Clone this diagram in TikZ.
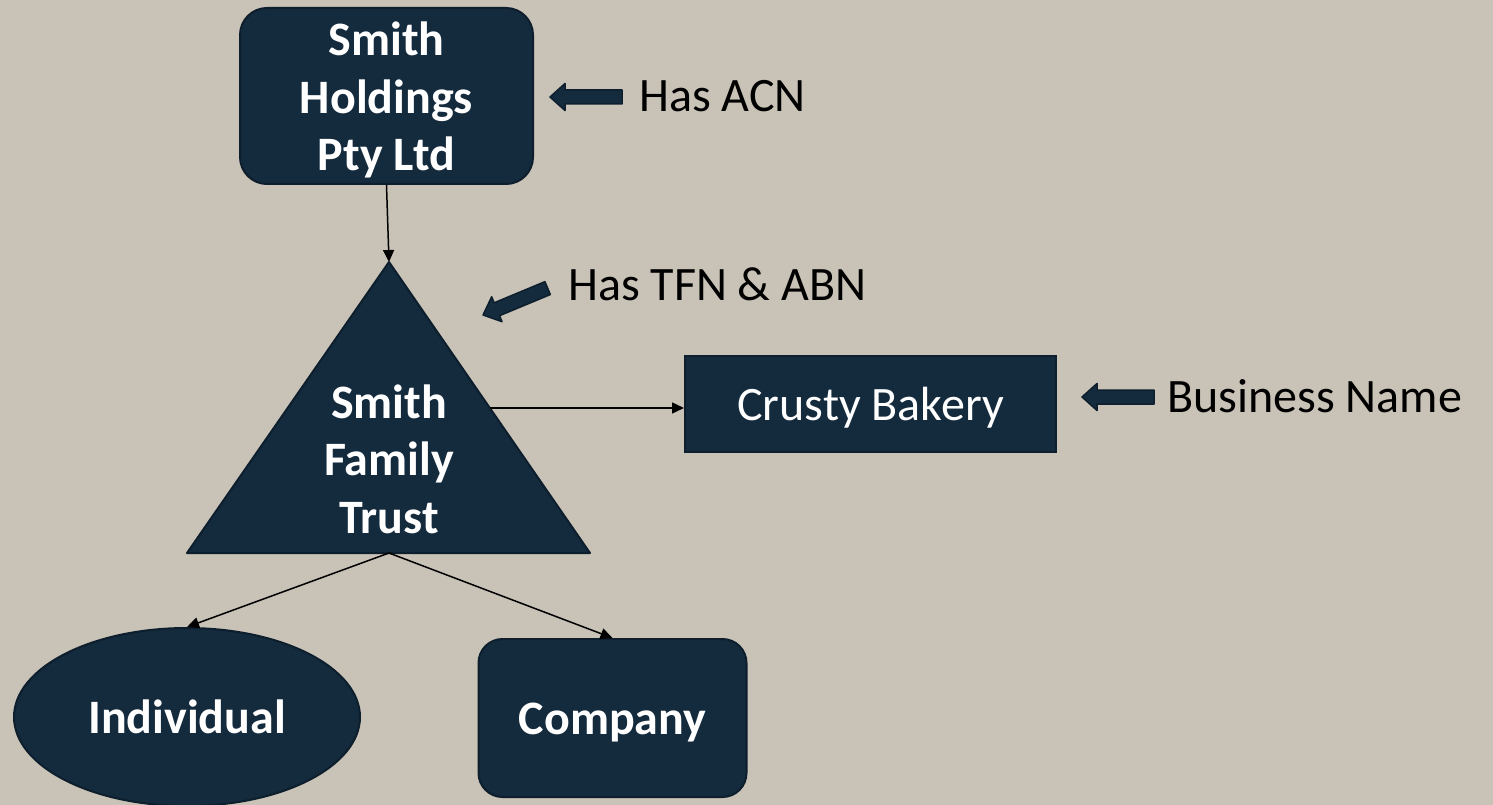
\documentclass[tikz,border=0pt]{standalone}
\usepackage{fontspec}
\setmainfont{Carlito}
\usetikzlibrary{shapes.geometric,arrows.meta}
\definecolor{bgc}{RGB}{201,194,183}
\definecolor{navy}{RGB}{20,42,61}
\definecolor{navyline}{RGB}{13,30,45}
\tikzset{
  darkshape/.style={fill=navy,draw=navyline,line width=2pt,text=white,font=\fontsize{48}{57.6}\selectfont\bfseries},
  oneline/.style={text height=32pt,text depth=0pt},
  conn/.style={draw=black,line width=1.5pt,-{Triangle[length=12pt,width=11pt]}},
  lbl/.style={font=\fontsize{48}{57.6}\selectfont,text=black,inner sep=0pt},
  barrowstyle/.style={fill=navy,draw=navyline,line width=1.5pt,line join=round},
  pics/barrow/.style={code={\draw[barrowstyle] (0,0) -- (15,13.5) -- (15,7) -- (#1,7) -- (#1,-7) -- (15,-7) -- (15,-13.5) -- cycle;}}
}
\begin{document}
\begin{tikzpicture}[x=1pt,y=-1pt]
\fill[bgc] (0,0) rectangle (1493,805);
\useasboundingbox (0,0) rectangle (1493,805);

% Smith Holdings box and its text
\node[darkshape,rounded corners=27pt,minimum width=293pt,minimum height=176pt,inner sep=0pt] (sh) at (386.5,96) {};
\node[text=white,font=\fontsize{48}{57.6}\selectfont\bfseries,align=center,inner sep=0pt] (shtext) at (386.5,100) {Smith\\Holdings\\Pty Ltd};

% Trust triangle
\coordinate (tapex) at (389,262);
\coordinate (tleft) at (187,553);
\coordinate (tright) at (590,553);
\coordinate (tbase) at (389,553);
\coordinate (tside) at (490,408);
\fill[navy,draw=navyline,line width=2pt,line join=round] (tapex) -- (tright) -- (tleft) -- cycle;
\node[text=white,font=\fontsize{48}{57.6}\selectfont\bfseries,align=center,inner sep=0pt] (trust) at (389,459) {Smith\\Family\\Trust};

% Crusty Bakery
\node[darkshape,oneline,font=\fontsize{48}{57.6}\selectfont,minimum width=371pt,minimum height=96pt,inner sep=0pt] (cb) at (870.5,404) {Crusty Bakery};

% Individual
\node[darkshape,oneline,ellipse,minimum width=346pt,minimum height=178pt,inner sep=0pt] (ind) at (187,717) {Individual};

% Company
\node[darkshape,oneline,rounded corners=24pt,minimum width=268pt,minimum height=158pt,inner sep=0pt] (co) at (612.5,718) {Company};

% connectors
\draw[conn] (sh.south) -- (tapex);
\draw[conn] (tside) -- (cb.west |- tside);
\draw[conn] (tbase) -- (ind.north);
\draw[conn] (tbase) -- (co.north);

% block arrows and labels
\pic at (550,97) {barrow=72};
\node[lbl,anchor=base west] (acn) at (639,112) {Has ACN};
\pic[rotate=22.6] at (483,315) {barrow=70};
\node[lbl,anchor=base west] (tfn) at (568,300) {Has TFN \& ABN};
\pic at (1082,397) {barrow=72};
\node[lbl,anchor=base west] (bn) at (1167,412) {Business Name};
\end{tikzpicture}
\end{document}
